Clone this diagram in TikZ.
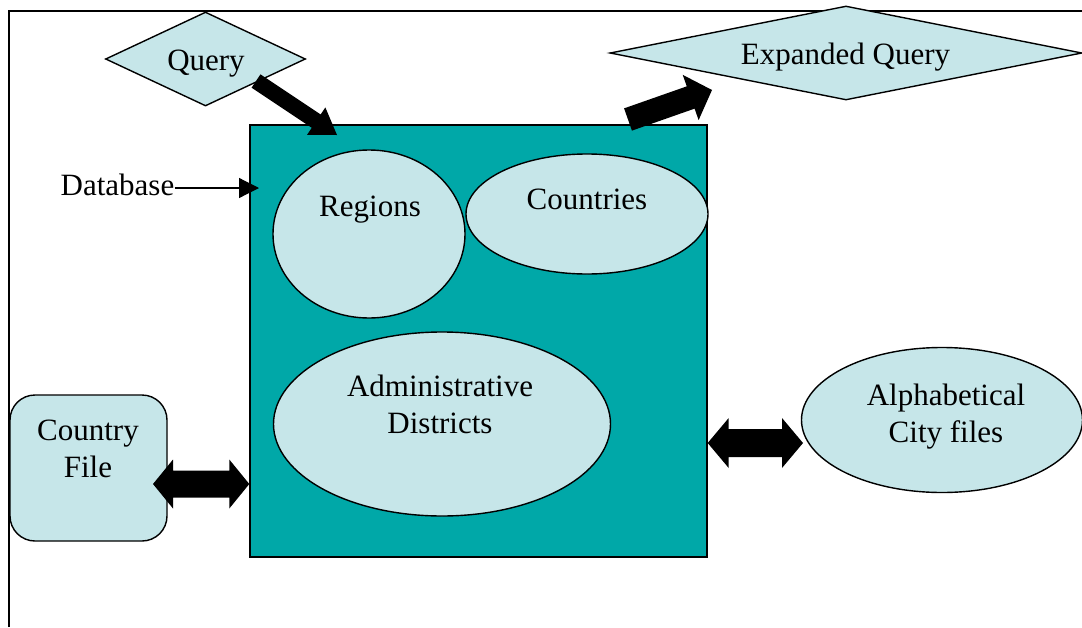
\documentclass[tikz,border=0pt]{standalone}
\usepackage{fontspec}
\setmainfont{Liberation Serif}
\usetikzlibrary{shapes.geometric,calc,arrows.meta}

\definecolor{dbteal}{RGB}{0,168,168}
\definecolor{paleaqua}{RGB}{198,230,233}

% solid block arrow: tail, tip, shaft half-width, head half-width, head length
\newcommand{\solidarrow}[5]{%
  \coordinate (hb) at ($(#2)!#5!(#1)$);
  \fill ($(#1)!#3!90:(#2)$) -- ($(hb)!#3!90:(#2)$) -- ($(hb)!#4!90:(#2)$) -- (#2)
     -- ($(hb)!#4!-90:(#2)$) -- ($(hb)!#3!-90:(#2)$) -- ($(#1)!#3!-90:(#2)$) -- cycle;
}
% solid two-way block arrow: end, end, shaft half-width, head half-width, head length
\newcommand{\solidtwoway}[5]{%
  \coordinate (ha) at ($(#1)!#5!(#2)$);
  \coordinate (hb) at ($(#2)!#5!(#1)$);
  \fill (#1) -- ($(ha)!#4!90:(#2)$) -- ($(ha)!#3!90:(#2)$) -- ($(hb)!#3!-90:(#1)$)
     -- ($(hb)!#4!-90:(#1)$) -- (#2) -- ($(hb)!#4!90:(#1)$) -- ($(hb)!#3!90:(#1)$)
     -- ($(ha)!#3!-90:(#2)$) -- ($(ha)!#4!-90:(#2)$) -- cycle;
}

\begin{document}
\begin{tikzpicture}[x=1pt,y=-1pt,
  every node/.style={font=\fontsize{31}{36.5}\selectfont, inner sep=0pt},
  lbl/.style={anchor=base, align=center},
  bubble/.style={ellipse, draw, line width=1.4pt, fill=paleaqua},
  kite/.style={diamond, draw, line width=1.4pt, fill=paleaqua},
]
\useasboundingbox (0,0) rectangle (1082,627);

% outer frame
\draw[line width=2pt] (9,627) -- (9,11) -- (1082,11);

% database block
\node[draw, line width=1.4pt, fill=dbteal, minimum width=457pt, minimum height=432pt] (db) at (478.5,341) {};

% tables inside the database (multi-line labels are placed by their last baseline)
\node[bubble, minimum width=192pt, minimum height=168pt] (regions) at (369,234) {};
\node[lbl] (regionsT) at (370,216) {Regions};
\node[bubble, minimum width=242pt, minimum height=120pt] (countries) at (587,214) {};
\node[lbl] (countriesT) at (587,209) {Countries};
\node[bubble, minimum width=337pt, minimum height=184pt] (admin) at (442,424) {};
\node[lbl] (adminT) at (440,433) {Administrative\\Districts};

% external files
\node[draw, line width=1.4pt, fill=paleaqua, rounded corners=25pt, minimum width=157pt, minimum height=146pt] (cfile) at (88.5,468) {};
\node[lbl] (cfileT) at (88,477) {Country\\File};
\node[bubble, minimum width=281pt, minimum height=145pt] (cities) at (942,420) {};
\node[lbl] (citiesT) at (946,442) {Alphabetical\\City files};

% queries
\node[kite, minimum width=200pt, minimum height=94pt] (query) at (205.5,59) {};
\node[lbl] (queryT) at (206,70) {Query};
\node[kite, minimum width=472pt, minimum height=94pt] (xquery) at (846,53) {};
\node[lbl] (xqueryT) at (845.5,64) {Expanded Query};

% database label
\node[lbl] (dblabel) at (117.5,195) {Database};
\coordinate (dbpoint) at (259,188);
\draw[line width=1.2pt, -{Triangle[length=20pt,width=20pt]}] (dblabel.east |- dbpoint) -- (dbpoint);

% flow arrows
\coordinate (qtail) at (256,81);
\coordinate (qtip) at (337,135);
\solidarrow{qtail}{qtip}{8pt}{16.5pt}{25pt}
\coordinate (xtail) at (628,119.5);
\coordinate (xtip) at (712,90);
\solidarrow{xtail}{xtip}{11.8pt}{24pt}{22.6pt}

% two-way links
\coordinate (cfA) at (153,484);
\coordinate (cfB) at (db.west |- cfA);
\solidtwoway{cfA}{cfB}{13.5pt}{24.5pt}{20pt}
\coordinate (ctA) at (db.east |- 0,443);
\coordinate (ctB) at (803,443);
\solidtwoway{ctA}{ctB}{14pt}{25pt}{21pt}
\end{tikzpicture}
\end{document}
